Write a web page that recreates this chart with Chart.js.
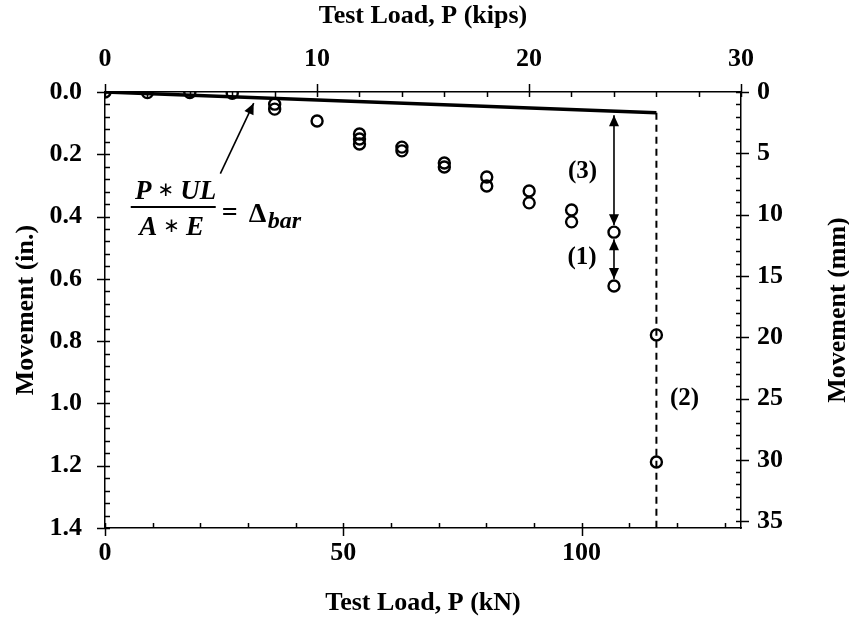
<!DOCTYPE html>
<html>
<head>
<meta charset="utf-8">
<script src="https://cdn.jsdelivr.net/npm/chart.js@4.4.1/dist/chart.umd.min.js"></script>
<style>
  html, body { margin: 0; padding: 0; background: #fff; }
  #wrap { width: 849px; height: 619px; }
</style>
</head>
<body>
<div id="wrap"><canvas id="loadTest" width="849" height="619"></canvas></div>
<script>
// measured points: test load (kN) vs movement (in.)
const loadKN = [0, 8.9, 17.8, 26.7, 35.6, 35.6, 44.5, 53.4, 53.4, 53.4, 62.3, 62.3,
                71.2, 71.2, 80.1, 80.1, 89.0, 89.0, 97.9, 97.9, 106.8, 106.8, 115.7, 115.7];
const movementIn = [0, 0.002, 0.002, 0.004, 0.039, 0.055, 0.093, 0.135, 0.151, 0.167, 0.177, 0.189,
                    0.228, 0.241, 0.273, 0.302, 0.318, 0.356, 0.379, 0.417, 0.45, 0.623, 0.78, 1.188];

// elastic bar line P*UL/(A*E)
const barLoadKN = [0, 115.7];
const barMoveIn = [0, 0.067];

// dashed line at the last load step
const dashLoadKN = [115.7, 115.7];
const dashMoveIn = [0.067, 1.4];

// axis ranges (kN axis = 30 kips, mm axis = 1.4 in.)
const kNMax = 133.45, kipsMax = 30, inMax = 1.4, mmMax = 35.56;
// major / minor tick steps per axis
const tickSteps = { x: [50, 10], xTop: [10, 2], y: [0.2, 0.04], yR: [5, 1] };

const serif = 'Liberation Serif, Times New Roman, serif';
const tickFont = { family: serif, size: 26, weight: 'bold' };
const titleFont = { family: serif, size: 26, weight: 'bold' };

function toXY(xs, ys) {
  return xs.map((x, i) => ({ x: x, y: ys[i] }));
}

function arrowHead(ctx, x1, y1, x2, y2) {
  const a = Math.atan2(y2 - y1, x2 - x1), len = 11, half = 5;
  ctx.beginPath();
  ctx.moveTo(x2, y2);
  ctx.lineTo(x2 - len * Math.cos(a) + half * Math.sin(a), y2 - len * Math.sin(a) - half * Math.cos(a));
  ctx.lineTo(x2 - len * Math.cos(a) - half * Math.sin(a), y2 - len * Math.sin(a) + half * Math.cos(a));
  ctx.closePath();
  ctx.fill();
}

function arrow(ctx, x1, y1, x2, y2, both) {
  ctx.beginPath();
  ctx.moveTo(x1, y1);
  ctx.lineTo(x2, y2);
  ctx.stroke();
  arrowHead(ctx, x1, y1, x2, y2);
  if (both) arrowHead(ctx, x2, y2, x1, y1);
}

// writes "a * b" centred on cx, with a small centred asterisk
function mathProduct(ctx, a, b, cx, base) {
  const big = 'bold italic 27px ' + serif, star = '20px DejaVu Sans, sans-serif';
  ctx.font = big;
  const wa = ctx.measureText(a).width, wb = ctx.measureText(b).width, gap = 6;
  ctx.font = star;
  const ws = ctx.measureText('\u2217').width;
  let x = cx - (wa + wb + ws + 2 * gap) / 2;
  ctx.textAlign = 'left';
  ctx.font = big;
  ctx.fillText(a, x, base);
  x += wa + gap;
  ctx.font = star;
  ctx.fillText('\u2217', x, base - 3);
  x += ws + gap;
  ctx.font = big;
  ctx.fillText(b, x, base);
}

// tick marks: majors cross the axis, minors point inwards
const tickMarks = {
  id: 'tickMarks',
  afterDraw(chart) {
    const ctx = chart.ctx;
    ctx.save();
    ctx.strokeStyle = '#000';
    ctx.lineWidth = 1.5;
    Object.keys(tickSteps).forEach(id => {
      const s = chart.scales[id];
      const [major, minor] = tickSteps[id];
      const n = Math.floor((s.max - s.min) / minor + 1e-6);
      for (let i = 0; i <= n; i++) {
        const v = s.min + i * minor;
        const isMajor = Math.abs(v / major - Math.round(v / major)) < 1e-6;
        const p = Math.round(s.getPixelForValue(v)) + 0.5;
        const out = isMajor ? 8 : 0, inn = 5;
        ctx.beginPath();
        if (s.position === 'bottom') { ctx.moveTo(p, s.top + out); ctx.lineTo(p, s.top - inn); }
        if (s.position === 'top') { ctx.moveTo(p, s.bottom - out); ctx.lineTo(p, s.bottom + inn); }
        if (s.position === 'left') { ctx.moveTo(s.right - out, p); ctx.lineTo(s.right + inn, p); }
        if (s.position === 'right') { ctx.moveTo(s.left + out, p); ctx.lineTo(s.left - inn, p); }
        ctx.stroke();
      }
    });
    // right axis title reads bottom to top
    const r = chart.scales.yR;
    ctx.fillStyle = '#000';
    ctx.font = 'bold 26px ' + serif;
    ctx.textAlign = 'center';
    ctx.textBaseline = 'middle';
    ctx.translate(r.right - 11, (r.top + r.bottom) / 2);
    ctx.rotate(-Math.PI / 2);
    ctx.fillText('Movement (mm)', 0, 0);
    ctx.restore();
  }
};

// arrows, labels and the formula
const notes = {
  id: 'notes',
  afterDatasetsDraw(chart) {
    const ctx = chart.ctx, x = chart.scales.x, y = chart.scales.y;
    const px = v => x.getPixelForValue(v), py = v => y.getPixelForValue(v);
    ctx.save();
    ctx.strokeStyle = '#000';
    ctx.fillStyle = '#000';
    ctx.lineWidth = 1.6;

    const load24 = loadKN[20];
    const lineAt24 = barMoveIn[1] * load24 / barLoadKN[1];
    const ax = px(load24);
    arrow(ctx, ax, py(lineAt24) + 4, ax, py(movementIn[20]) - 7, true);
    arrow(ctx, ax, py(movementIn[20]) + 7, ax, py(movementIn[21]) - 7, true);
    // pointer to the bar line
    arrow(ctx, px(24.2), py(0.262), px(31.2), py(0.036), false);

    ctx.font = 'bold 25px ' + serif;
    ctx.textAlign = 'center';
    ctx.textBaseline = 'middle';
    ctx.fillText('(3)', px(100.2), py(0.257));
    ctx.fillText('(1)', px(100.1), py(0.533));
    ctx.fillText('(2)', px(121.6), py(0.983));

    // P*UL / (A*E) = Δbar
    const fx = px(5.4), fy = py(0.369);
    ctx.lineWidth = 2;
    ctx.beginPath();
    ctx.moveTo(fx, fy);
    ctx.lineTo(fx + 85, fy);
    ctx.stroke();
    ctx.textBaseline = 'alphabetic';
    mathProduct(ctx, 'P', 'UL', fx + 45, fy - 8);
    mathProduct(ctx, 'A', 'E', fx + 41, fy + 28);
    ctx.textAlign = 'left';
    ctx.font = 'bold 28px ' + serif;
    ctx.fillText('=', fx + 91, fy + 14);
    ctx.fillText('\u0394', fx + 118, fy + 15);
    ctx.font = 'bold italic 24px ' + serif;
    ctx.fillText('bar', fx + 137, fy + 21);
    ctx.restore();
  }
};

new Chart(document.getElementById('loadTest'), {
  type: 'scatter',
  data: {
    datasets: [
      {
        label: 'Measured',
        data: toXY(loadKN, movementIn),
        xAxisID: 'x', yAxisID: 'y',
        showLine: false,
        pointStyle: 'circle',
        pointRadius: 5.5,
        pointBorderWidth: 2.4,
        pointBorderColor: '#000',
        pointBackgroundColor: 'rgba(0,0,0,0)',
        order: 0
      },
      {
        label: 'Bar',
        data: toXY(barLoadKN, barMoveIn),
        xAxisID: 'x', yAxisID: 'y',
        showLine: true,
        borderColor: '#000',
        borderWidth: 3.5,
        pointRadius: 0,
        order: 1
      },
      {
        label: 'Dashed',
        data: toXY(dashLoadKN, dashMoveIn),
        xAxisID: 'x', yAxisID: 'y',
        showLine: true,
        borderColor: '#000',
        borderWidth: 2,
        borderDash: [7, 5],
        pointRadius: 0,
        order: 2
      }
    ]
  },
  options: {
    responsive: false,
    animation: false,
    layout: { padding: 0 },
    plugins: { legend: { display: false }, tooltip: { enabled: false } },
    scales: {
      x: {
        type: 'linear', position: 'bottom', min: 0, max: kNMax,
        grid: { display: false },
        border: { display: true, color: '#000', width: 1.5 },
        ticks: { stepSize: 50, includeBounds: false, color: '#000', font: tickFont, padding: 2, maxRotation: 0 },
        title: { display: true, text: 'Test Load, P (kN)', color: '#000', font: titleFont, padding: { top: 0, bottom: 0 } },
        afterFit: s => { s.height = 91; }
      },
      xTop: {
        type: 'linear', position: 'top', min: 0, max: kipsMax,
        grid: { display: false },
        border: { display: true, color: '#000', width: 1.5 },
        ticks: { stepSize: 10, color: '#000', font: tickFont, padding: 9, maxRotation: 0 },
        title: { display: true, text: 'Test Load, P (kips)', color: '#000', font: titleFont, padding: { top: 1, bottom: 0 } },
        afterFit: s => { s.height = 92; }
      },
      y: {
        type: 'linear', position: 'left', reverse: true, min: 0, max: inMax,
        grid: { display: false },
        border: { display: true, color: '#000', width: 1.5 },
        ticks: { stepSize: 0.2, color: '#000', font: tickFont, padding: 15, callback: v => v.toFixed(1) },
        title: { display: true, text: 'Movement (in.)', color: '#000', font: titleFont, padding: { top: 11, bottom: 0 } },
        afterFit: s => { s.width = 105; }
      },
      yR: {
        type: 'linear', position: 'right', reverse: true, min: 0, max: mmMax,
        grid: { display: false },
        border: { display: true, color: '#000', width: 1.5 },
        ticks: { stepSize: 5, includeBounds: false, color: '#000', font: tickFont, padding: 8 },
        afterFit: s => { s.width = 108; }
      }
    }
  },
  plugins: [tickMarks, notes]
});
</script>
</body>
</html>
